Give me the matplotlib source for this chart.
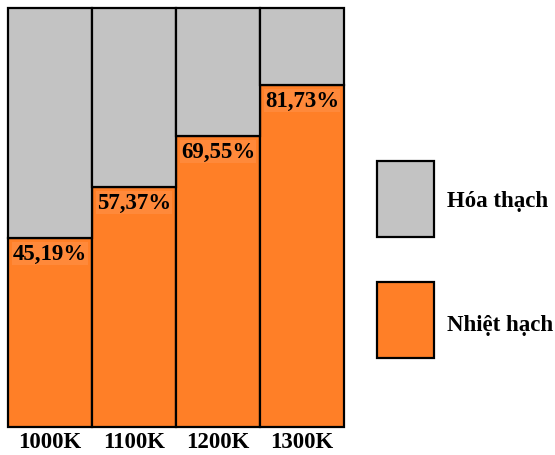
import matplotlib
matplotlib.use("Agg")
import matplotlib.pyplot as plt
from matplotlib.patches import Rectangle
import numpy as np

categories = ["1000K", "1100K", "1200K", "1300K"]
nhiet_hach = [45.19, 57.37, 69.55, 81.73]
hoa_thach = [100 - v for v in nhiet_hach]
series_labels = ["Hóa thạch", "Nhiệt hạch"]

plt.rcParams['font.family'] = ['Liberation Serif', 'DejaVu Serif']
plt.rcParams['font.weight'] = 'bold'

ORANGE = "#FF7F27"
GRAY = "#C3C3C3"
W, H = 555, 456

fig = plt.figure(figsize=(5.55, 4.56), dpi=100)
ax = fig.add_axes([8/W, 28/H, 336/W, 419/H])

x = np.arange(len(categories))
b1 = ax.bar(x, nhiet_hach, width=1.0, color=ORANGE, edgecolor="black",
            linewidth=1.6, label=series_labels[1], clip_on=False)
b2 = ax.bar(x, hoa_thach, width=1.0, bottom=nhiet_hach, color=GRAY,
            edgecolor="black", linewidth=1.6, label=series_labels[0], clip_on=False)

for xi, v in zip(x, nhiet_hach):
    ax.annotate(f"{v:.2f}".replace('.', ',') + "%", xy=(xi, v), xytext=(0, -4),
                textcoords="offset points", ha="center", va="top",
                fontsize=16.5, fontweight="bold",
                bbox=dict(boxstyle="square,pad=0.05", facecolor="#FF893A", edgecolor="none"))

ax.set_xlim(-0.5, len(categories) - 0.5)
ax.set_ylim(0, 100)
ax.set_xticks(x)
ax.set_xticklabels(categories, fontsize=16.5, fontweight="bold")
ax.tick_params(axis='x', length=0, pad=3)
ax.set_yticks([])
for s in ax.spines.values():
    s.set_visible(False)

# legend drawn as patches + text in figure pixels
legend_items = [(series_labels[0], GRAY, 162, 40), (series_labels[1], ORANGE, 283, 42)]
for lab, col, top, toff in legend_items:
    r = Rectangle((377/W, 1 - (top + 76)/H), 57/W, 76/H, transform=fig.transFigure,
                  facecolor=col, edgecolor="black", linewidth=1.6)
    fig.patches.append(r)
    fig.text(447/W, 1 - (top + toff)/H, lab, ha="left", va="center",
             fontsize=16.5, fontweight="bold")

fig.savefig("out.png", dpi=100)
